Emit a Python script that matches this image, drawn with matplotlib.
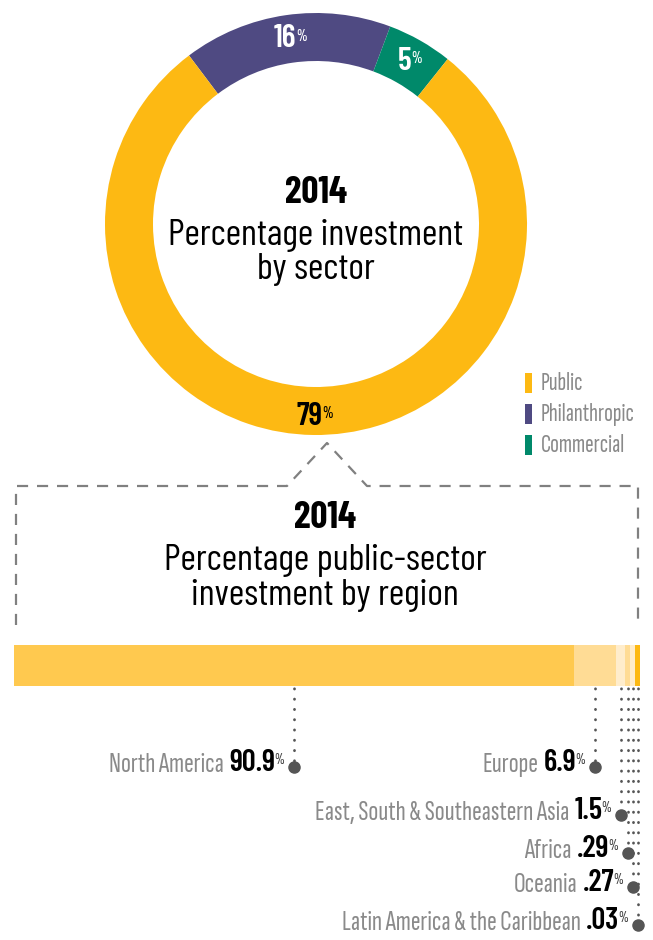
import matplotlib
matplotlib.use("Agg")
import numpy as np
import matplotlib.pyplot as plt
from matplotlib import font_manager
from matplotlib.transforms import blended_transform_factory

# ---- data ----
sectors = ["Public", "Philanthropic", "Commercial"]
sector_pct = [79, 16, 5]
sector_colors = ["#FDB913", "#4F4A82", "#00896A"]

regions = ["North America", "Europe", "East, South & Southeastern Asia",
           "Africa", "Oceania", "Latin America & the Caribbean"]
region_pct = [90.9, 6.9, 1.5, 0.29, 0.27, 0.03]
region_text = ["90.9", "6.9", "1.5", ".29", ".27", ".03"]
region_colors = ["#FFC94F", "#FFDC95", "#FFEDCC", "#FFDC95", "#FFEDCC", "#FDB913"]

# ---- fonts ----
avail = {f.name for f in font_manager.fontManager.ttflist}


def pick(*names):
    for n in names:
        if n in avail:
            return n
    return "DejaVu Sans"


LIGHT = pick("Sofia Sans Extra Condensed", "Pathway Gothic One", "Roboto Condensed")
TITLE = pick("Barlow Condensed", "Roboto Condensed")
BOLD = pick("Barlow Condensed", "Oswald", "Roboto Condensed")

W, H = 653, 940
fig = plt.figure(figsize=(W / 100, H / 100), dpi=100)

# overlay axes in pixel coordinates (y down)
ov = fig.add_axes([0, 0, 1, 1])
ov.set_xlim(0, W)
ov.set_ylim(H, 0)
ov.axis("off")

# ---- donut ----
cx, cy, R, band = 316, 224, 211, 48
ax_d = fig.add_axes([(cx - R) / W, (H - cy - R) / H, 2 * R / W, 2 * R / H])
order = [1, 2, 0]  # philanthropic, commercial, public going clockwise
wedges, _ = ax_d.pie([sector_pct[i] for i in order],
                     colors=[sector_colors[i] for i in order],
                     startangle=127, counterclock=False, radius=1,
                     wedgeprops=dict(width=band / R, linewidth=0))
ax_d.set_xlim(-1, 1)
ax_d.set_ylim(-1, 1)

r_lab = 1 - band / R / 2
for k, w in zip(order, wedges):
    mid = np.deg2rad((w.theta1 + w.theta2) / 2)
    col = "black" if sectors[k] == "Public" else "white"
    t = ax_d.text(r_lab * np.cos(mid) - 0.02, r_lab * np.sin(mid) - (0.025 if k == 0 else 0),
                  str(sector_pct[k]), ha="center", va="center",
                  fontsize=23, family=BOLD, weight="semibold", color=col)
    ax_d.annotate("%", xy=(1, 1), xycoords=t, xytext=(0, -3),
                  textcoords="offset points", ha="left", va="top",
                  fontsize=13, family=LIGHT, color=col)

ov.text(cx, 203, "2014", ha="center", va="baseline", fontsize=27,
        family=BOLD, weight="bold", color="black")
ov.text(cx, 245, "Percentage investment", ha="center", va="baseline",
        fontsize=27, family=TITLE, color="black")
ov.text(cx, 279, "by sector", ha="center", va="baseline",
        fontsize=27, family=TITLE, color="black")

# legend
for i, (name, c) in enumerate(zip(sectors, sector_colors)):
    y = 383 + i * 31
    ov.add_patch(plt.Rectangle((525, y - 10), 7, 20, color=c, lw=0))
    ov.text(541, y, name, ha="left", va="center", fontsize=18.5,
            family=LIGHT, color="#8a8a8a")

# dashed bracket
bx = [16, 16, 287, 327, 367, 638, 638]
by = [625, 486, 486, 443, 486, 486, 625]
ov.plot(bx, by, color="#808080", lw=1.6, ls=(0, (5, 4)),
        dash_capstyle="butt", solid_joinstyle="miter")

ov.text(325, 528, "2014", ha="center", va="baseline", fontsize=27,
        family=BOLD, weight="bold", color="black")
ov.text(325, 570, "Percentage public-sector", ha="center", va="baseline",
        fontsize=27, family=TITLE, color="black")
ov.text(325, 605, "investment by region", ha="center", va="baseline",
        fontsize=27, family=TITLE, color="black")

# ---- stacked bar ----
shown = np.maximum(region_pct, 0.8)
left = np.concatenate([[0], np.cumsum(shown)[:-1]])
ax_b = fig.add_axes([14 / W, (H - 686) / H, 626 / W, 41 / H])
ax_b.barh([0] * len(regions), shown, left=left, color=region_colors,
          height=1, linewidth=0)
ax_b.set_xlim(0, shown.sum())
ax_b.set_ylim(-0.5, 0.5)
ax_b.axis("off")

tr = blended_transform_factory(ax_b.transData, ov.transData)
label_y = [767, 767, 815, 853, 887, 925]
for i, name in enumerate(regions):
    xc = left[i] + shown[i] / 2
    yy = label_y[i]
    ov.plot([xc, xc], [678, yy], transform=tr, color="#555555", lw=2,
            ls=(0, (0.1, 3.6)), dash_capstyle="round", clip_on=False)
    ov.plot([xc], [yy], transform=tr, marker="o", ms=8, color="#555555",
            clip_on=False)
    pct = ov.annotate("%", xy=(xc, yy), xycoords=tr, xytext=(-7, 10),
                      textcoords="offset points", ha="right", va="top",
                      fontsize=12, family=LIGHT, color="#444444")
    val = ov.annotate(region_text[i], xy=(0, 1), xycoords=pct,
                      xytext=(1, 3), textcoords="offset points",
                      ha="right", va="top", fontsize=22, family=BOLD,
                      weight="semibold", color="black")
    ov.annotate(name, xy=(0, 0), xycoords=val, xytext=(-4, 0),
                textcoords="offset points", ha="right", va="bottom",
                fontsize=21, family=LIGHT, color="#8a8a8a")

fig.savefig("out.png", dpi=100)
